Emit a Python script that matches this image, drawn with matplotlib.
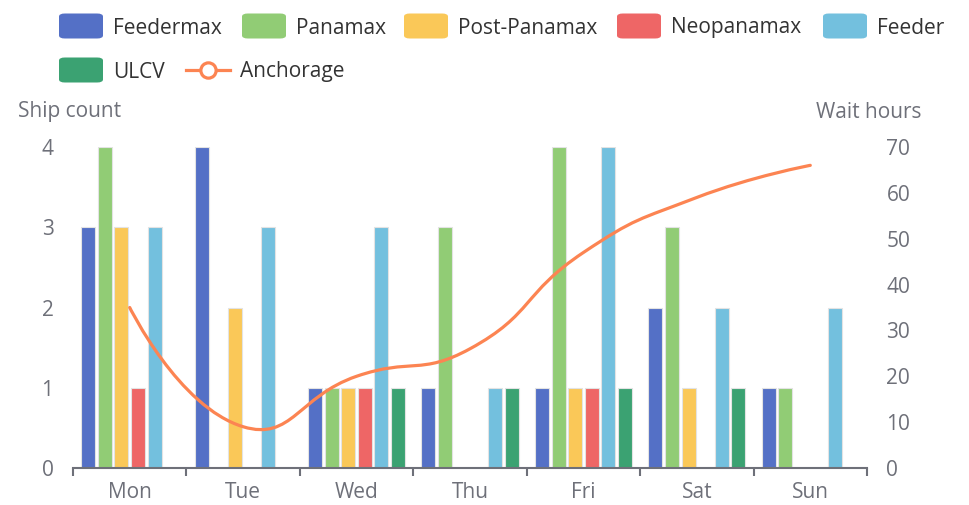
import matplotlib
matplotlib.use("Agg")
import matplotlib.pyplot as plt
import numpy as np
from matplotlib.path import Path
from matplotlib.patches import PathPatch, FancyBboxPatch
from matplotlib.lines import Line2D

# ---------------- data ----------------
days = ["Mon", "Tue", "Wed", "Thu", "Fri", "Sat", "Sun"]
series_names = ["Feedermax", "Panamax", "Post-Panamax", "Neopanamax", "Feeder", "ULCV"]
feedermax = [3, 4, 1, 1, 1, 2, 1]
panamax = [4, 0, 1, 3, 4, 3, 1]
post_panamax = [3, 2, 1, 0, 1, 1, 0]
neopanamax = [1, 0, 1, 0, 1, 0, 0]
feeder = [3, 3, 3, 1, 4, 2, 2]
ulcv = [0, 0, 1, 1, 1, 1, 0]
anchorage = [35, 9, 20, 26, 47, 59, 66]
left_ticks = [0, 1, 2, 3, 4]
right_ticks = [0, 10, 20, 30, 40, 50, 60, 70]

colors = ["#5470c6", "#91cc75", "#fac858", "#ee6666", "#73c0de", "#3ba272"]
line_color = "#fc8452"
axis_gray = "#6E7079"
text_dark = "#333333"

W, H = 969, 505
FONT = "Open Sans"
FS = 15

fig = plt.figure(figsize=(W / 100, H / 100), dpi=100)
L, R, T, B = 73, 867, 147, 468
ax = fig.add_axes([L / W, 1 - B / H, (R - L) / W, (B - T) / H])
ax2 = ax.twinx()

def fx(x):
    return x / W

def fy(y):
    return 1 - y / H

# ---------------- bars ----------------
all_series = [feedermax, panamax, post_panamax, neopanamax, feeder, ulcv]
x = np.arange(len(days))
pitch = 0.1464
bw = 0.1235
n = len(all_series)
for i, (vals, c) in enumerate(zip(all_series, colors)):
    off = (i - (n - 1) / 2) * pitch
    ax.bar(x + off, vals, width=bw, color=c, edgecolor="#e3e3e3", linewidth=0.8, zorder=2)

ax.set_xlim(-0.5, len(days) - 0.5)
ax.set_ylim(0, 4)
ax2.set_ylim(0, 70)
ax.set_yticks(left_ticks)
ax2.set_yticks(right_ticks)

for a in (ax, ax2):
    for s in a.spines.values():
        s.set_visible(False)
ax.spines["bottom"].set_visible(True)
ax.spines["bottom"].set_color(axis_gray)
ax.spines["bottom"].set_linewidth(1.5)

ax.set_xticks(x)
ax.set_xticklabels(days, fontfamily=FONT, fontsize=FS, color=axis_gray)
ax.tick_params(axis="x", length=0, pad=10)
ax.set_xticks(np.arange(-0.5, len(days) + 0.5, 1), minor=True)
ax.tick_params(axis="x", which="minor", length=6, width=1.5, color=axis_gray)

ax.tick_params(axis="y", length=0, pad=14, labelsize=FS, labelcolor=axis_gray)
ax2.tick_params(axis="y", length=0, pad=14, labelsize=FS, labelcolor=axis_gray)
for lab in ax.get_yticklabels() + ax2.get_yticklabels():
    lab.set_fontfamily(FONT)

# ---------------- smooth line (echarts-like bezier) ----------------
pts = ax2.transData.transform(np.column_stack([x, anchorage]))
smooth = 0.5
verts = [tuple(pts[0])]
codes = [Path.MOVETO]
cp0 = pts[0].copy()
for k in range(1, len(pts)):
    p = pts[k]
    prev = pts[k - 1]
    if k >= len(pts) - 1:
        cp1 = p.copy()
        v = np.zeros(2)
        ratio = 0.5
    else:
        nxt = pts[k + 1]
        v = nxt - prev
        l0 = np.hypot(*(p - prev))
        l1 = np.hypot(*(nxt - p))
        ratio = l1 / (l0 + l1)
        cp1 = p - v * smooth * (1 - ratio)
    verts += [tuple(cp0), tuple(cp1), tuple(p)]
    codes += [Path.CURVE4] * 3
    cp0 = p + v * smooth * ratio
inv = ax2.transData.inverted()
data_verts = inv.transform(np.array(verts))
ax2.add_patch(PathPatch(Path(data_verts, codes), facecolor="none", edgecolor=line_color,
                        linewidth=2.3, zorder=5, capstyle="round", joinstyle="round"))

# ---------------- axis names ----------------
fig.text(fx(18), fy(112), "Ship count", fontfamily=FONT, fontsize=FS, color=axis_gray,
         ha="left", va="center")
fig.text(fx(922), fy(112), "Wait hours", fontfamily=FONT, fontsize=FS, color=axis_gray,
         ha="right", va="center")

# ---------------- legend ----------------
def legend_box(x0, yc, c):
    w, h = 44, 25
    p = FancyBboxPatch((fx(x0), fy(yc + h / 2)), w / W, h / H,
                       boxstyle="round,pad=0,rounding_size=0.006",
                       transform=fig.transFigure, facecolor=c, edgecolor="none")
    fig.patches.append(p)

row1 = [(59, "Feedermax"), (242, "Panamax"), (404, "Post-Panamax"), (617, "Neopanamax"), (823, "Feeder")]
for (x0, name), c in zip(row1, colors[:5]):
    legend_box(x0, 26, c)
    fig.text(fx(x0 + 54), fy(28), name, fontfamily=FONT, fontsize=FS, color=text_dark,
             ha="left", va="center")
legend_box(59, 70, colors[5])
fig.text(fx(113), fy(72), series_names[5], fontfamily=FONT, fontsize=FS, color=text_dark,
         ha="left", va="center")
fig.lines.append(Line2D([fx(186), fx(230)], [fy(70), fy(70)], transform=fig.transFigure,
                        color=line_color, linewidth=2.3))
fig.lines.append(Line2D([fx(208)], [fy(70)], transform=fig.transFigure, marker="o",
                        markersize=11, markerfacecolor="white", markeredgecolor=line_color,
                        markeredgewidth=2.3, linestyle="none"))
fig.text(fx(240), fy(72), "Anchorage", fontfamily=FONT, fontsize=FS, color=text_dark,
         ha="left", va="center")

fig.savefig("out.png", dpi=100, facecolor="white")
